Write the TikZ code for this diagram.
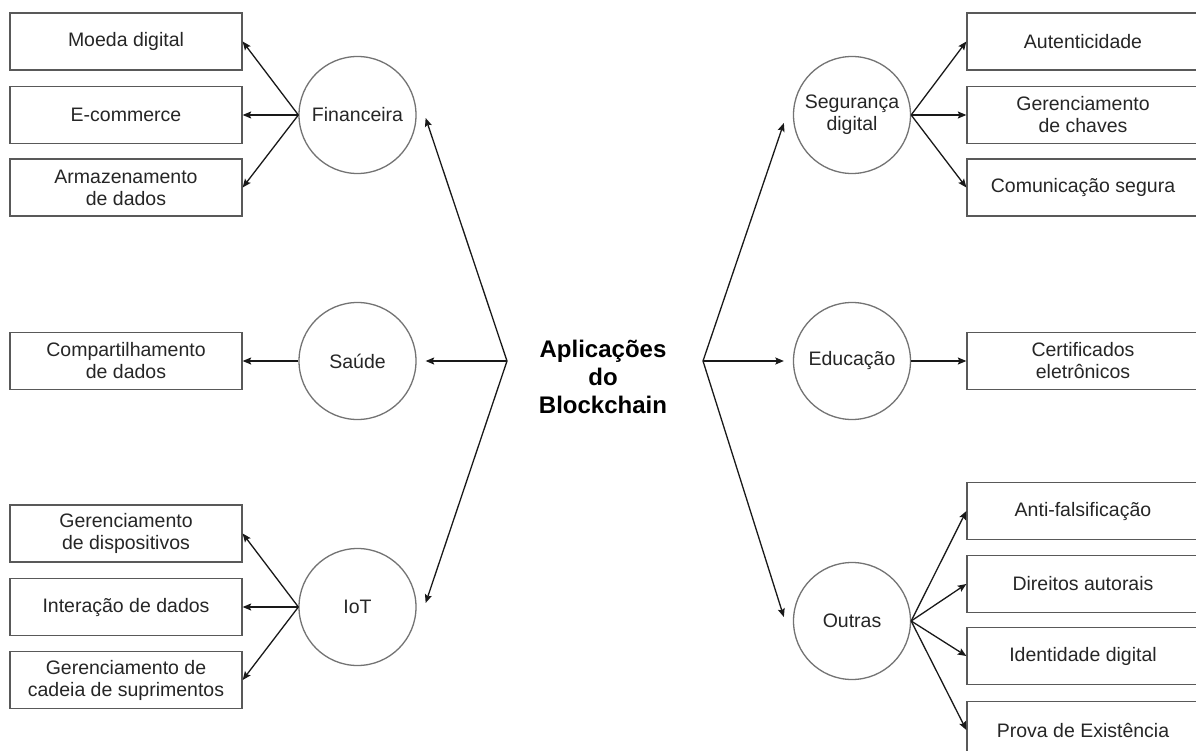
\documentclass[tikz,border=0pt]{standalone}
\usepackage{fontspec}
\setmainfont{Liberation Sans}
\usetikzlibrary{arrows.meta,calc}
\begin{document}
\begin{tikzpicture}[x=1pt,y=-1pt,
  every node/.style={font=\fontsize{19.5}{22}\selectfont, text=black!85, align=center, inner sep=0pt},
  itembox/.style={draw=black!65, line width=1.3pt, minimum width=232pt, minimum height=57pt},
  area/.style={circle, draw=black!55, line width=1.3pt, minimum size=117pt},
  link/.style={line width=1.3pt, black!90, -{Stealth[length=8.5pt,width=7pt,inset=1.5pt]}}
]
\fill[white] (0,0) rectangle (1196,751);
\useasboundingbox (0,0) rectangle (1196,751);

% central topic
\node[font=\fontsize{24}{28}\selectfont\bfseries, text=black] (core) at (603,377) {Aplicações\\do\\Blockchain};
\coordinate (hubL) at (507,361);
\coordinate (hubR) at (703,361);

% left-hand areas
\node[area] (fin) at (357.5,115) {Financeira};
\node[area] (sau) at (357.5,361) {Saúde};
\node[area] (iot) at (357.5,607) {IoT};

\node[itembox] (moeda) at (126,41.5) {Moeda digital};
\node[itembox] (ecom)  at (126,115)  {E-commerce};
\node[itembox] (armaz) at (126,187.5) {Armazenamento\\de dados};
\node[itembox] (comp)  at (126,361)  {Compartilhamento\\de dados};
\node[itembox] (gdisp) at (126,533.5) {Gerenciamento\\de dispositivos};
\node[itembox] (inter) at (126,607)  {Interação de dados};
\node[itembox] (gcad)  at (126,680)  {Gerenciamento de\\cadeia de suprimentos};

% right-hand areas
\node[area] (seg) at (852,115) {Segurança\\digital};
\node[area] (edu) at (852,361) {Educação};
\node[area] (out) at (852,621) {Outras};

\node[itembox] (aut)   at (1083,41.5) {Autenticidade};
\node[itembox] (gchav) at (1083,115)  {Gerenciamento\\de chaves};
\node[itembox] (comun) at (1083,187.5) {Comunicação segura};
\node[itembox] (cert)  at (1083,361)  {Certificados\\eletrônicos};
\node[itembox] (anti)  at (1083,511)  {Anti-falsificação};
\node[itembox] (dir)   at (1083,584)  {Direitos autorais};
\node[itembox] (ident) at (1083,656)  {Identidade digital};
\node[itembox] (prova) at (1083,730)  {Prova de Existência};

% hub to areas
\draw[link] (hubL) -- ($(fin.east)+(9,3)$);
\draw[link] (hubL) -- ($(sau.east)+(9,0)$);
\draw[link] (hubL) -- ($(iot.east)+(9,-4)$);
\draw[link] (hubR) -- ($(seg.west)+(-9,8)$);
\draw[link] (hubR) -- ($(edu.west)+(-9,0)$);
\draw[link] (hubR) -- ($(out.west)+(-9,-4)$);

% areas to items
\draw[link] (fin.west) -- (moeda.east);
\draw[link] (fin.west) -- (ecom.east);
\draw[link] (fin.west) -- (armaz.east);
\draw[link] (sau.west) -- (comp.east);
\draw[link] (iot.west) -- (gdisp.east);
\draw[link] (iot.west) -- (inter.east);
\draw[link] (iot.west) -- (gcad.east);

\draw[link] (seg.east) -- (aut.west);
\draw[link] (seg.east) -- (gchav.west);
\draw[link] (seg.east) -- (comun.west);
\draw[link] (edu.east) -- (cert.west);
\draw[link] (out.east) -- (anti.west);
\draw[link] (out.east) -- (dir.west);
\draw[link] (out.east) -- (ident.west);
\draw[link] (out.east) -- (prova.west);
\end{tikzpicture}
\end{document}
